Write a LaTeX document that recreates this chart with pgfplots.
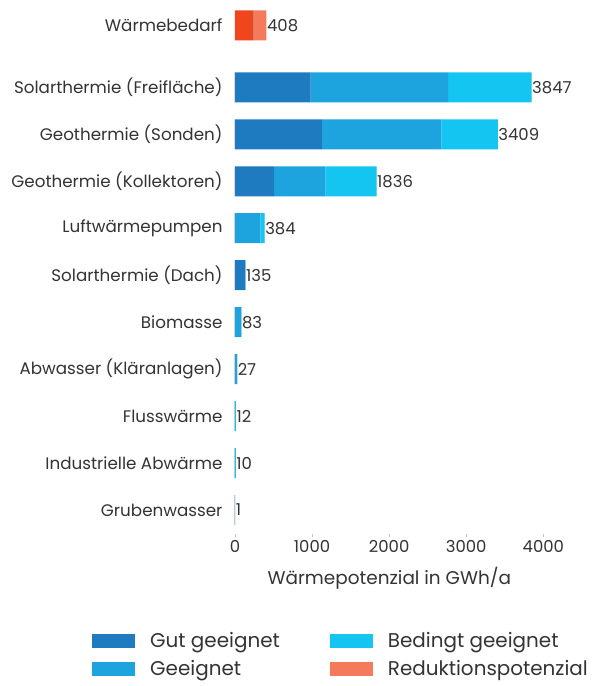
\documentclass[border=0pt]{standalone}
\usepackage{pgfplots}
\pgfplotsset{compat=1.18}
\usepackage{pgfplotstable}
\usepackage{fontspec}
\setmainfont{Poppins}
\definecolor{gut}{HTML}{1E7BC0}
\definecolor{gee}{HTML}{1DA3DE}
\definecolor{bed}{HTML}{14C5F1}
\definecolor{wred}{HTML}{F0461E}
\definecolor{reduk}{HTML}{F57A5C}
\definecolor{txt}{HTML}{333333}
\pgfplotstableread{
y     rot  gut  gee  bed  red2 total
0     0    0    0    1    0    1
1     0    0    0    10   0    10
2     0    0    0    12   0    12
3     0    0    27   0    0    27
4     0    0    83   0    0    83
5     0    135  0    0    0    135
6     0    0    330  54   0    384
7     0    507  666  663  0    1836
8     0    1126 1551 732  0    3409
9     0    980  1785 1082 0    3847
10.32 238  0    0    0    170  408
}\data
\begin{document}
\begin{tikzpicture}[font=\fontsize{16}{19}\selectfont, text=txt]
\useasboundingbox (-235bp,-152.5bp) rectangle (364bp,533.5bp);
\begin{axis}[
  scale only axis, width=343bp, height=526bp,
  xbar, stack plots=x, bar shift=0pt, bar width=30bp,
  xmin=0, xmax=4450, ymin=-0.5, ymax=10.7,
  ytick={0,1,2,3,4,5,6,7,8,9,10.32},
  yticklabels={Grubenwasser, Industrielle Abwärme, Flusswärme, Abwasser (Kläranlagen), Biomasse, Solarthermie (Dach), Luftwärmepumpen, Geothermie (Kollektoren), Geothermie (Sonden), Solarthermie (Freifläche), Wärmebedarf},
  xtick={0,1000,2000,3000,4000},
  xtick pos=bottom,
  /pgf/number format/assume math mode=true,
  /pgf/number format/1000 sep={},
  axis line style={draw=none},
  ytick style={draw=none},
  xtick style={draw=gray!50, line width=0.4pt},
  tick align=outside, major tick length=3bp,
  yticklabel style={text=txt, xshift=-6bp, font=\fontsize{16.8}{19}\selectfont},
  xticklabel style={text=txt, yshift=0bp, font=\fontsize{16.5}{19}\selectfont},
  xlabel={Wärmepotenzial in GWh/a},
  xlabel style={at={(axis description cs:0.45,0)}, anchor=north, yshift=-30bp, text=txt, font=\fontsize{18.5}{21}\selectfont},
  legend style={at={(rel axis cs:0,0)}, anchor=north west, xshift=-146bp, yshift=-95bp,
    draw=none, fill=none, legend columns=2, transpose legend,
    /tikz/every even column/.style={column sep=48bp},
    row sep=7bp, font=\fontsize{20}{23}\selectfont, text=txt,
    cells={anchor=west}},
  legend image code/.code={\fill[#1, draw=none] (0bp,-7bp) rectangle (43bp,7bp); \path (56bp,0bp);},
]
\addplot[fill=wred, draw=none, forget plot] table[x=rot, y=y]{\data};
\addplot[fill=gut, draw=none] table[x=gut, y=y]{\data};
\addplot[fill=gee, draw=none] table[x=gee, y=y]{\data};
\addplot[fill=bed, draw=none] table[x=bed, y=y]{\data};
\addplot[fill=reduk, draw=none] table[x=red2, y=y]{\data};
\addplot[stack plots=false, draw=none, fill=none, forget plot,
  point meta=explicit symbolic,
  nodes near coords,
  nodes near coords align={horizontal},
  every node near coord/.style={anchor=west, inner xsep=0.5bp, text=txt, font=\fontsize{16.5}{19}\selectfont}]
  table[x=total, y=y, meta=total]{\data};
\legend{Gut geeignet, Geeignet, Bedingt geeignet, Reduktionspotenzial}
\end{axis}
\end{tikzpicture}
\end{document}
